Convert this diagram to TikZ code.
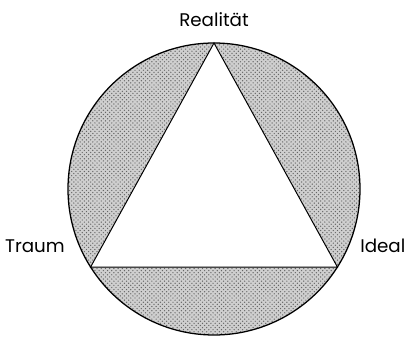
\documentclass[tikz,border=0pt]{standalone}
\usepackage{fontspec}
\setmainfont{Poppins}
\usepackage{tikz}
\usetikzlibrary{patterns}

\begin{document}
\begin{tikzpicture}[x=0.025cm, y=0.025cm,
    lbl/.style={font=\fontsize{13}{15}\selectfont, inner sep=0pt},
    hatched/.style={fill=gray!38, postaction={pattern=crosshatch dots, pattern color=black!60}}]
    \useasboundingbox (0,0) rectangle (408,336);

    % Circle and vertices
    \coordinate (O) at (214,147);
    \path (O) ++(90:146) coordinate (R);
    \path (O) ++(212.3:146) coordinate (T);
    \path (O) ++(-32.3:146) coordinate (I);

    % Shaded segments
    \fill[hatched, even odd rule] (O) circle[radius=146] (R) -- (T) -- (I) -- cycle;
    \draw[line width=0.9pt] (O) circle[radius=146];

    % Triangle
    \draw[line width=0.7pt, line join=miter] (R) -- (T) -- (I) -- cycle;

    % Labels
    \node[lbl, anchor=base] (real) at ([yshift=0.4cm]R) {Realität};
    \node[lbl, anchor=base east] (traum) at ([xshift=-0.64cm, yshift=0.375cm]T) {Traum};
    \node[lbl, anchor=base west] (ideal) at ([xshift=0.565cm, yshift=0.375cm]I) {Ideal};
\end{tikzpicture}
\end{document}
